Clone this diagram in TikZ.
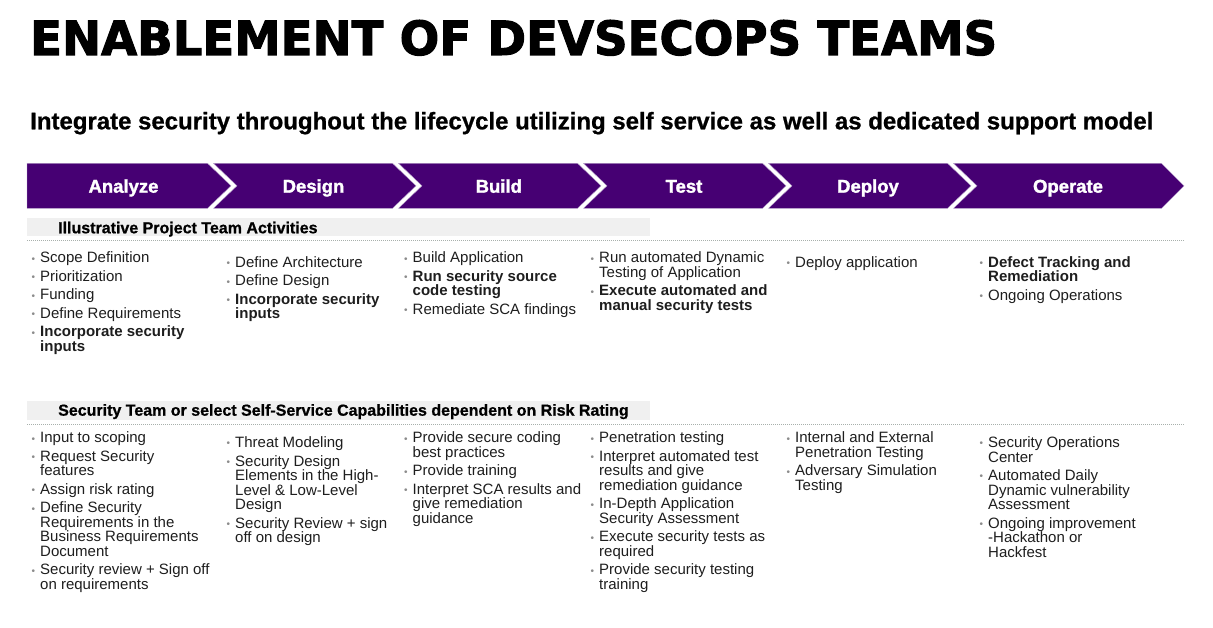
\documentclass[tikz,border=0pt]{standalone}
\usepackage{fontspec}
\usepackage{graphicx}
\setmainfont{Liberation Sans}
\newfontfamily\titlefont{DejaVu Sans}[BoldFeatures={FakeBold=2.2}]
\newfontfamily\heavyfont{Liberation Sans}[BoldFeatures={FakeBold=1.6}]
\newfontfamily\semifont{Liberation Sans}[BoldFeatures={FakeBold=0.8}]

\definecolor{acnpurple}{HTML}{460073}
\definecolor{acnedge}{HTML}{B9A3CC}
\definecolor{bandgray}{HTML}{F0F0F0}
\definecolor{dotgray}{HTML}{A8B0AC}
\definecolor{bodytext}{HTML}{1E1E1E}
\definecolor{bulletgray}{HTML}{8C8C8C}

% bullet, hanging indent and first-line strut for the activity columns
\newcommand{\bl}{\makebox[8.5pt][l]{\raisebox{0.6pt}{\textcolor{bulletgray}{\fontsize{10}{10}\selectfont •}}}}
\newcommand{\ind}{\hspace*{8.5pt}}
\newcommand{\fst}{\rule{0pt}{12pt}}

\tikzset{
  phase/.style={fill=acnpurple, draw=acnedge, line width=0.4pt},
  phaselabel/.style={anchor=base, inner sep=0pt, text=white,
    font=\heavyfont\fontsize{18.5}{20}\selectfont\bfseries},
  band/.style={fill=bandgray, draw=none},
  bandlabel/.style={anchor=base west, inner sep=0pt, text=black,
    font=\semifont\fontsize{16}{18}\selectfont\bfseries},
  rule/.style={draw=dotgray, line width=0.9pt, dash pattern=on 1pt off 1pt},
  col/.style={anchor=north west, inner sep=0pt, align=left, text=bodytext,
    font=\fontsize{15}{14.5}\selectfont},
}

\begin{document}
\begin{tikzpicture}[x=1pt, y=-1pt]
\useasboundingbox (0,0) rectangle (1213,628);
\fill[white] (0,0) rectangle (1213,628);

% headings
\node[anchor=base west, inner sep=0pt] (title) at (30,55)
  {\resizebox{967pt}{35pt}{\titlefont\bfseries ENABLEMENT OF DEVSECOPS TEAMS}};
\node[anchor=base west, inner sep=0pt] (subtitle) at (30,129.3)
  {\resizebox{1123pt}{!}{\semifont\bfseries Integrate security throughout the lifecycle utilizing self service as well as dedicated support model}};

% phase chevrons
\def\ct{163.3}\def\cb{208.3}\def\cm{185.8}
\path[phase] (27,\ct) -- (207.5,\ct) -- (231,\cm) -- (207.5,\cb) -- (27,\cb) -- cycle;
\path[phase] (213.5,\ct) -- (392.5,\ct) -- (416,\cm) -- (392.5,\cb) -- (213.5,\cb) -- (237,\cm) -- cycle;
\path[phase] (398.5,\ct) -- (577.5,\ct) -- (601,\cm) -- (577.5,\cb) -- (398.5,\cb) -- (422,\cm) -- cycle;
\path[phase] (583.5,\ct) -- (762.5,\ct) -- (786,\cm) -- (762.5,\cb) -- (583.5,\cb) -- (607,\cm) -- cycle;
\path[phase] (768.5,\ct) -- (947.5,\ct) -- (971,\cm) -- (947.5,\cb) -- (768.5,\cb) -- (792,\cm) -- cycle;
\path[phase] (953.5,\ct) -- (1161.5,\ct) -- (1184,\cm) -- (1161.5,\cb) -- (953.5,\cb) -- (977,\cm) -- cycle;

\node[phaselabel] (analyze) at (123.5,192.7) {Analyze};
\node[phaselabel] (design)  at (313.5,192.7) {Design};
\node[phaselabel] (build)   at (498.8,192.7) {Build};
\node[phaselabel] (test)    at (684,192.7)   {Test};
\node[phaselabel] (deploy)  at (868,192.7)   {Deploy};
\node[phaselabel] (operate) at (1068,192.7)  {Operate};

% section: project team activities
\path[band] (27,218.3) rectangle (650,236);
\node[bandlabel] (projhead) at (58,233.3) {Illustrative Project Team Activities};
\draw[rule] (27,240.7) -- (1185,240.7);

\node[col] (p1) at (31.5,250.5) {\fst\bl Scope Definition\\[4pt]
  \bl Prioritization\\[4pt]
  \bl Funding\\[4pt]
  \bl Define Requirements\\[4pt]
  \bl\textbf{Incorporate security}\\
  \ind\textbf{inputs}};
\node[col] (p2) at (226.5,255) {\fst\bl Define Architecture\\[4pt]
  \bl Define Design\\[4pt]
  \bl\textbf{Incorporate security}\\
  \ind\textbf{inputs}};
\node[col] (p3) at (404,250.5) {\fst\bl Build Application\\[4pt]
  \bl\textbf{Run security source}\\
  \ind\textbf{code testing}\\[4pt]
  \bl Remediate SCA findings};
\node[col] (p4) at (590.5,250.5) {\fst\bl Run automated Dynamic\\
  \ind Testing of Application\\[4pt]
  \bl\textbf{Execute automated and}\\
  \ind\textbf{manual security tests}};
\node[col] (p5) at (786.5,255) {\fst\bl Deploy application};
\node[col] (p6) at (979.5,255) {\fst\bl\textbf{Defect Tracking and}\\
  \ind\textbf{Remediation}\\[4pt]
  \bl Ongoing Operations};

% section: security team capabilities
\path[band] (27,401) rectangle (650,420);
\node[bandlabel] (sechead) at (58,415.7) {Security Team or select Self-Service Capabilities dependent on Risk Rating};
\draw[rule] (27,424.3) -- (1185,424.3);

\node[col] (s1) at (31.5,430.7) {\fst\bl Input to scoping\\[4pt]
  \bl Request Security\\
  \ind features\\[4pt]
  \bl Assign risk rating\\[4pt]
  \bl Define Security\\
  \ind Requirements in the\\
  \ind Business Requirements\\
  \ind Document\\[4pt]
  \bl Security review + Sign off\\
  \ind on requirements};
\node[col] (s2) at (226.5,435.3) {\fst\bl Threat Modeling\\[4pt]
  \bl Security Design\\
  \ind Elements in the High-\\
  \ind Level \& Low-Level\\
  \ind Design\\[4pt]
  \bl Security Review + sign\\
  \ind off on design};
\node[col] (s3) at (404,430.7) {\fst\bl Provide secure coding\\
  \ind best practices\\[4pt]
  \bl Provide training\\[4pt]
  \bl Interpret SCA results and\\
  \ind give remediation\\
  \ind guidance};
\node[col] (s4) at (590.5,430.7) {\fst\bl Penetration testing\\[4pt]
  \bl Interpret automated test\\
  \ind results and give\\
  \ind remediation guidance\\[4pt]
  \bl In-Depth Application\\
  \ind Security Assessment\\[4pt]
  \bl Execute security tests as\\
  \ind required\\[4pt]
  \bl Provide security testing\\
  \ind training};
\node[col] (s5) at (786.5,430.7) {\fst\bl Internal and External\\
  \ind Penetration Testing\\[4pt]
  \bl Adversary Simulation\\
  \ind Testing};
\node[col] (s6) at (979.5,435.3) {\fst\bl Security Operations\\
  \ind Center\\[4pt]
  \bl Automated Daily\\
  \ind Dynamic vulnerability\\
  \ind Assessment\\[4pt]
  \bl Ongoing improvement\\
  \ind -Hackathon or\\
  \ind Hackfest};
\end{tikzpicture}
\end{document}
